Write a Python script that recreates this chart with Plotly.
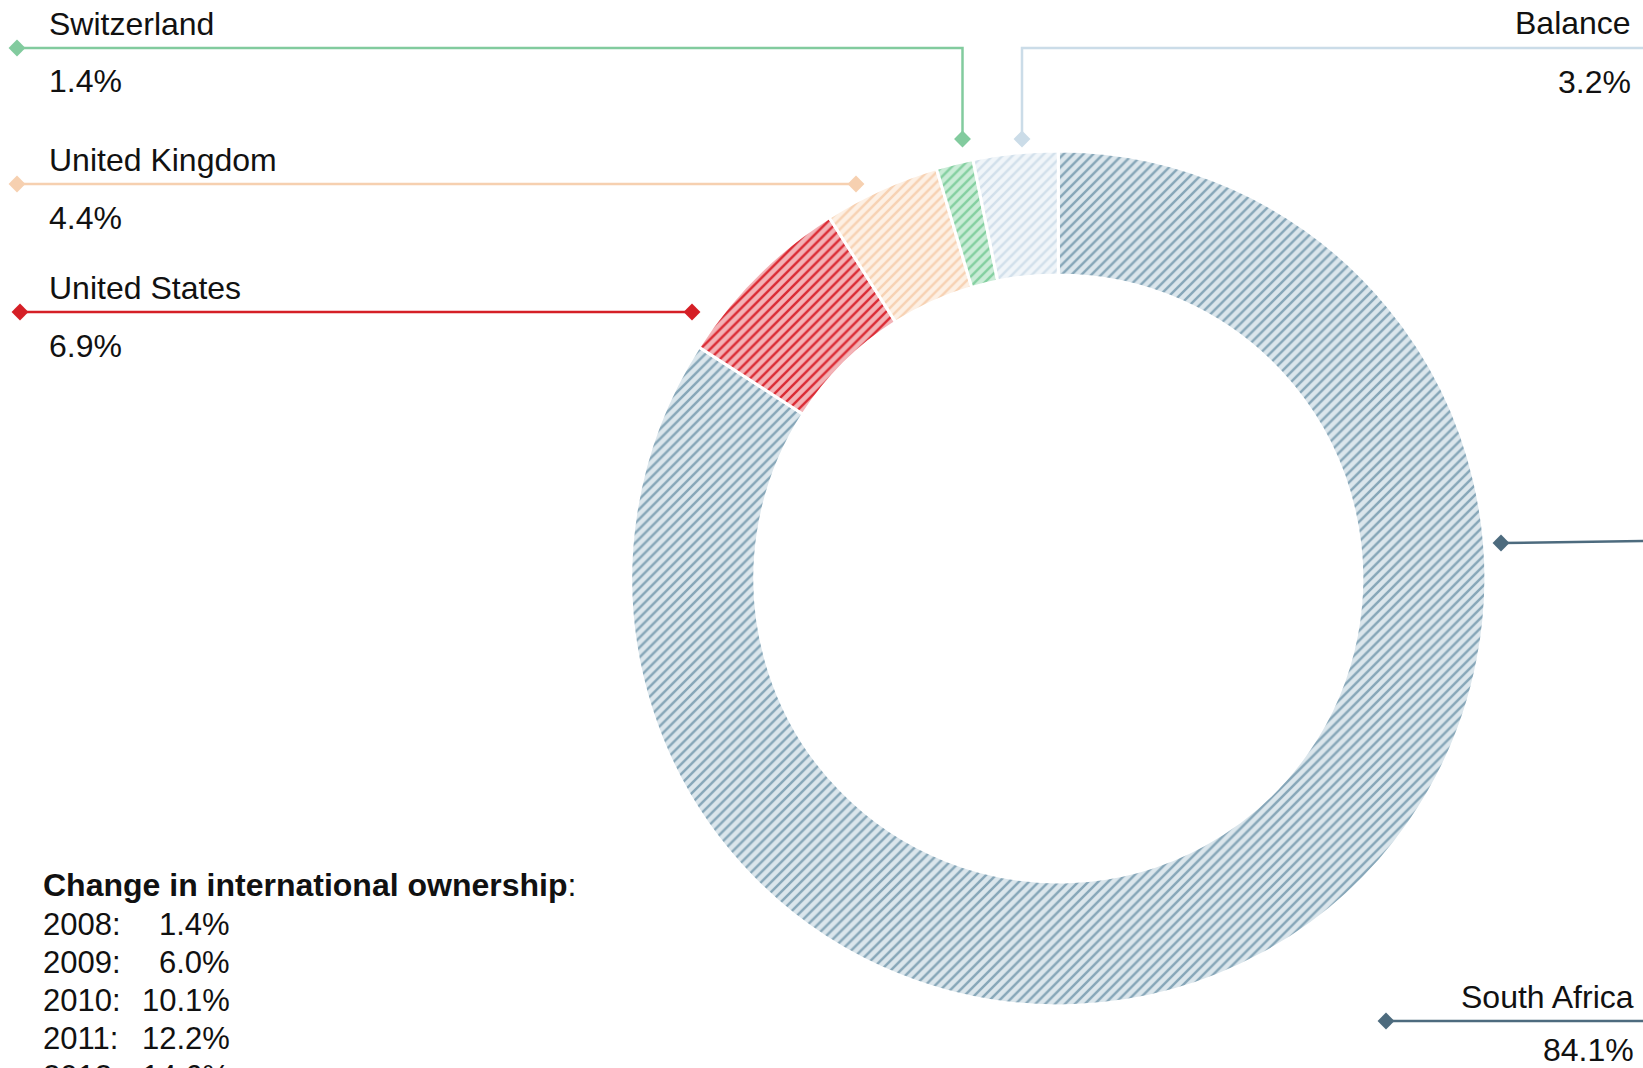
import plotly.graph_objects as go

# ---- data ----
countries = ["South Africa", "United States", "United Kingdom", "Switzerland", "Balance"]
shares = [84.1, 6.9, 4.4, 1.4, 3.2]
share_text = ["84.1%", "6.9%", "4.4%", "1.4%", "3.2%"]
years = ["2008:", "2009:", "2010:", "2011:", "2012:"]
intl_change = ["1.4%", "6.0%", "10.1%", "12.2%", "14.6%"]
heading = "Change in international ownership"

# ---- styles ----
W, H = 1643, 1068
bg_cols = ["#dbe6ec", "#f3b3b7", "#fdf0e4", "#caecd7", "#f0f5f9"]
fg_cols = ["#86a6b8", "#db2a33", "#f7d2b3", "#84d0a0", "#d2e0eb"]
lead_cols = ["#4d6b7e", "#d51f26", "#f6d0b0", "#82cb9e", "#cbdce8"]
FONT = "Arial, Liberation Sans, sans-serif"

cx, cy, R = 1058.3, 578.4, 427.5

fig = go.Figure()

fig.add_trace(go.Pie(
    labels=countries, values=shares, sort=False, direction="clockwise", rotation=0,
    hole=0.71, textinfo="none", hoverinfo="label+percent", showlegend=False,
    domain=dict(x=[(cx - R) / W, (cx + R) / W], y=[1 - (cy + R) / H, 1 - (cy - R) / H]),
    marker=dict(colors=bg_cols, line=dict(color="white", width=3),
                pattern=dict(shape="/", fgcolor=fg_cols, fillmode="overlay",
                             size=7, solidity=0.35, fgopacity=1)),
))

# leader lines (pixel layout coordinates)
leaders = {
    "Switzerland": dict(x=[17, 962.5, 962.5], y=[48, 48, 139], m=[0, 2]),
    "Balance": dict(x=[1643, 1022, 1022], y=[48, 48, 139], m=[2]),
    "United Kingdom": dict(x=[17, 856], y=[184, 184], m=[0, 1]),
    "United States": dict(x=[20, 692], y=[312, 312], m=[0, 1]),
    "South Africa": dict(x=[1501, 1643], y=[543, 541], m=[0]),
    "South Africa 2": dict(x=[1386, 1643], y=[1021, 1021], m=[0]),
}
col_of = {c: lead_cols[i] for i, c in enumerate(countries)}
for key, d in leaders.items():
    name = key.replace(" 2", "")
    col = col_of[name]
    fig.add_trace(go.Scatter(x=d["x"], y=d["y"], mode="lines", line=dict(color=col, width=2.5),
                             hoverinfo="skip", showlegend=False, cliponaxis=False))
    fig.add_trace(go.Scatter(x=[d["x"][i] for i in d["m"]], y=[d["y"][i] for i in d["m"]],
                             mode="markers", marker=dict(symbol="diamond", size=13, color=col),
                             hoverinfo="skip", showlegend=False, cliponaxis=False))

annotations = []
def txt(x, y, s, anchor="left", size=32, yanchor="middle"):
    annotations.append(dict(x=x, y=y, xref="x", yref="y", text=s, showarrow=False,
                            xanchor=anchor, yanchor=yanchor,
                            font=dict(family=FONT, size=size, color="#111111")))

share_of = {c: share_text[i] for i, c in enumerate(countries)}
label_pos = {
    "Switzerland": (47, 24, 81, "left"),
    "United Kingdom": (47, 160, 218, "left"),
    "United States": (47, 288, 346, "left"),
    "Balance": (1633, 23, 82, "right"),
    "South Africa": (1636, 997, 1050, "right"),
}
for c, (x, y1, y2, a) in label_pos.items():
    txt(x, y1, c, a)
    txt(x, y2, share_of[c], a)

txt(41, 885, "<b>" + heading + "</b>:", "left", size=32)
row_y = [924, 962, 1000, 1038, 1076]
for yr, v, y in zip(years, intl_change, row_y):
    if y > H - 5:
        # last row runs off the bottom edge; anchor its top just inside the page
        txt(41, y - 19, yr, "left", size=31, yanchor="top")
        txt(232, y - 19, v, "right", size=31, yanchor="top")
    else:
        txt(41, y, yr, "left", size=31)
        txt(232, y, v, "right", size=31)

fig.update_layout(
    width=W, height=H, margin=dict(l=0, r=0, t=0, b=0),
    paper_bgcolor="white", plot_bgcolor="rgba(0,0,0,0)",
    xaxis=dict(range=[0, W], visible=False, domain=[0, 1], fixedrange=True),
    yaxis=dict(range=[H, 0], visible=False, domain=[0, 1], fixedrange=True),
    annotations=annotations, font=dict(family=FONT),
)

fig.write_html("out.html")
